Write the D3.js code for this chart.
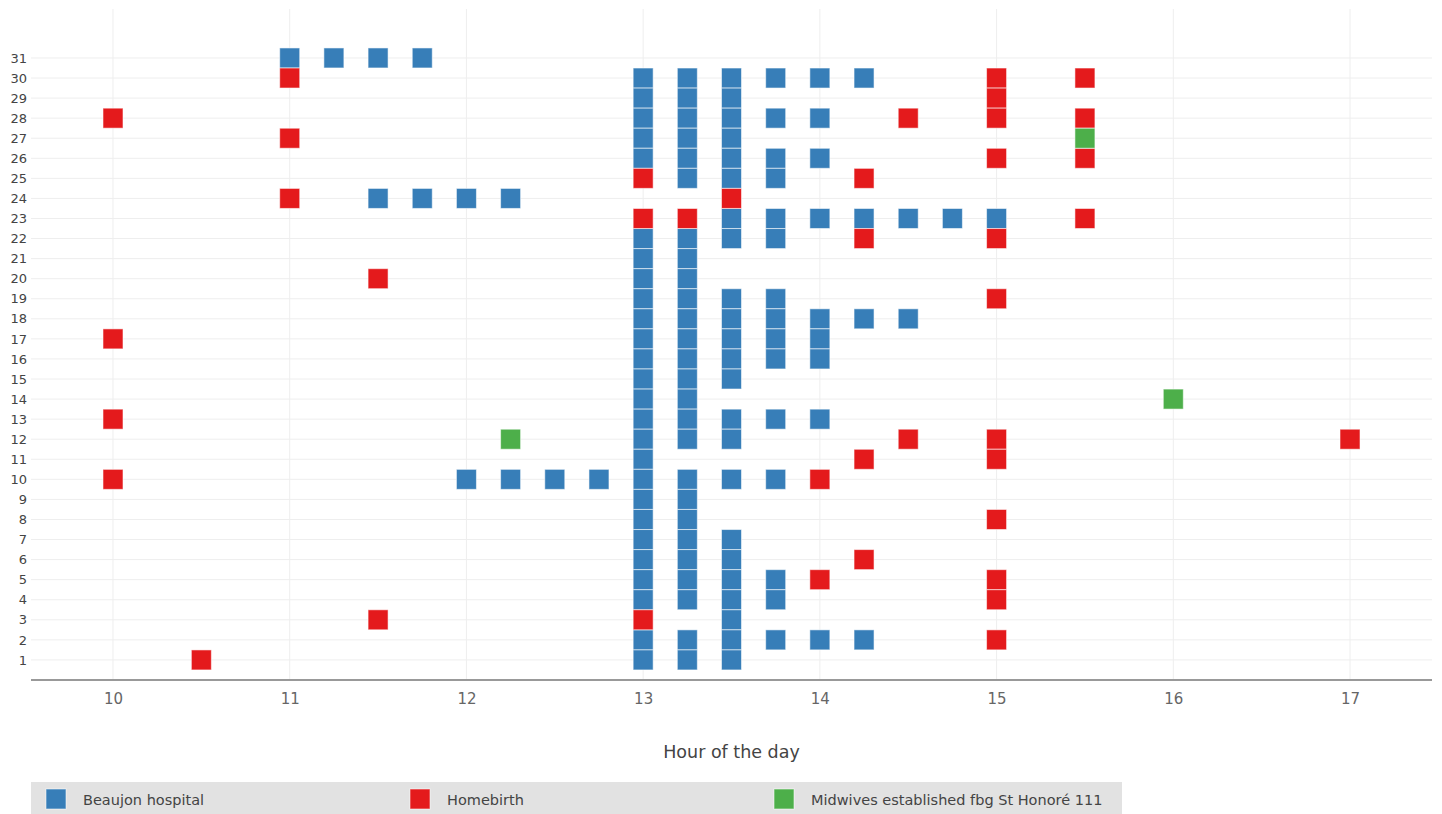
<!DOCTYPE html>
<html>
<head>
<meta charset="utf-8">
<script src="https://cdn.jsdelivr.net/npm/d3@7/dist/d3.min.js"></script>
<style>
  html, body { margin: 0; padding: 0; background: #fff; }
  svg { display: block; font-family: "DejaVu Sans", Verdana, sans-serif; }
</style>
</head>
<body>
<svg id="chart" width="1442" height="814"></svg>
<script>
// ---- data: [hour, [days...]] ----
const seriesNames = ["Beaujon hospital", "Homebirth", "Midwives established fbg St Honoré 111"];
const seriesColors = ["#377eb8", "#e41a1c", "#4daf4a"];

const beaujon = [
  [11, [31]],
  [11.25, [31]],
  [11.5, [31, 24]],
  [11.75, [31, 24]],
  [12, [24, 10]],
  [12.25, [24, 10]],
  [12.5, [10]],
  [12.75, [10]],
  [13, [30, 29, 28, 27, 26, 22, 21, 20, 19, 18, 17, 16, 15, 14, 13, 12, 11, 10, 9, 8, 7, 6, 5, 4, 2, 1]],
  [13.25, [30, 29, 28, 27, 26, 25, 22, 21, 20, 19, 18, 17, 16, 15, 14, 13, 12, 10, 9, 8, 7, 6, 5, 4, 2, 1]],
  [13.5, [30, 29, 28, 27, 26, 25, 23, 22, 19, 18, 17, 16, 15, 13, 12, 10, 7, 6, 5, 4, 3, 2, 1]],
  [13.75, [30, 28, 26, 25, 23, 22, 19, 18, 17, 16, 13, 10, 5, 4, 2]],
  [14, [30, 28, 26, 23, 18, 17, 16, 13, 2]],
  [14.25, [30, 23, 18, 2]],
  [14.5, [23, 18]],
  [14.75, [23]],
  [15, [23]]
];

const homebirth = [
  [10, [28, 17, 13, 10]],
  [10.5, [1]],
  [11, [30, 27, 24]],
  [11.5, [20, 3]],
  [13, [25, 23, 3]],
  [13.25, [23]],
  [13.5, [24]],
  [14, [10, 5]],
  [14.25, [25, 22, 11, 6]],
  [14.5, [28, 12]],
  [15, [30, 29, 28, 26, 22, 19, 12, 11, 8, 5, 4, 2]],
  [15.5, [30, 28, 26, 23]],
  [17, [12]]
];

const midwives = [
  [12.25, [12]],
  [15.5, [27]],
  [16, [14]]
];

const xTicks = [10, 11, 12, 13, 14, 15, 16, 17];
const yTicks = [1,2,3,4,5,6,7,8,9,10,11,12,13,14,15,16,17,18,19,20,21,22,23,24,25,26,27,28,29,30,31];
const xTitle = "Hour of the day";

// ---- layout ----
const svg = d3.select("#chart");
const plot = { left: 31, right: 1432, top: 9, bottom: 680 };

const x = d3.scaleLinear().domain([9.536, 17.464]).range([plot.left, plot.right]);
const y = d3.scaleLinear().domain([0, 33.44]).range([plot.bottom, plot.top]);

// gridlines
const grid = svg.append("g");
grid.selectAll("line.h").data(yTicks).join("line")
  .attr("x1", plot.left).attr("x2", plot.right)
  .attr("y1", d => y(d)).attr("y2", d => y(d))
  .attr("stroke", "#eeeeee").attr("stroke-width", 1);
grid.selectAll("line.v").data(xTicks).join("line")
  .attr("x1", d => x(d)).attr("x2", d => x(d))
  .attr("y1", plot.top).attr("y2", plot.bottom)
  .attr("stroke", "#eeeeee").attr("stroke-width", 1);

// x axis
const xAxis = d3.axisBottom(x).tickValues(xTicks).tickSize(0).tickPadding(13).tickFormat(d3.format("d"));
const gx = svg.append("g").attr("transform", `translate(0,${plot.bottom})`).call(xAxis);
gx.select(".domain").remove();
gx.selectAll("text").attr("font-family", "DejaVu Sans, Verdana, sans-serif")
  .attr("font-size", 15).attr("fill", "#666");
svg.append("line")
  .attr("x1", plot.left).attr("x2", plot.right)
  .attr("y1", plot.bottom).attr("y2", plot.bottom)
  .attr("stroke", "#999").attr("stroke-width", 2);

// y axis
const yAxis = d3.axisLeft(y).tickValues(yTicks).tickSize(0).tickPadding(4).tickFormat(d3.format("d"));
const gy = svg.append("g").attr("transform", `translate(${plot.left},0)`).call(yAxis);
gy.select(".domain").remove();
gy.selectAll("text").attr("font-family", "DejaVu Sans, Verdana, sans-serif")
  .attr("font-size", 13).attr("fill", "#444");

// x title
svg.append("text")
  .attr("x", (plot.left + plot.right) / 2).attr("y", 758)
  .attr("text-anchor", "middle")
  .attr("font-size", 17.5).attr("fill", "#444")
  .text(xTitle);

// markers
const allSeries = [beaujon, homebirth, midwives];
const size = 20;
allSeries.forEach((s, i) => {
  const pts = [];
  s.forEach(([h, days]) => days.forEach(d => pts.push({ h, d })));
  svg.append("g").selectAll("rect").data(pts).join("rect")
    .attr("x", p => x(p.h) - size / 2)
    .attr("y", p => y(p.d) - size / 2)
    .attr("width", size).attr("height", size)
    .attr("fill", seriesColors[i])
    .attr("stroke", "#ffffff").attr("stroke-opacity", 0.55).attr("stroke-width", 1);
});

// legend
const legend = svg.append("g");
legend.append("rect").attr("x", 31).attr("y", 782).attr("width", 1091).attr("height", 32).attr("fill", "#e2e2e2");
const itemW = 364;
seriesNames.forEach((name, i) => {
  const gx0 = 46 + i * itemW;
  legend.append("rect").attr("x", gx0).attr("y", 789).attr("width", 20).attr("height", 20)
    .attr("fill", seriesColors[i]).attr("stroke", "#ffffff").attr("stroke-opacity", 0.55).attr("stroke-width", 1);
  legend.append("text").attr("x", gx0 + 37).attr("y", 805)
    .attr("font-size", 14.5).attr("fill", "#444").text(name);
});
</script>
</body>
</html>
